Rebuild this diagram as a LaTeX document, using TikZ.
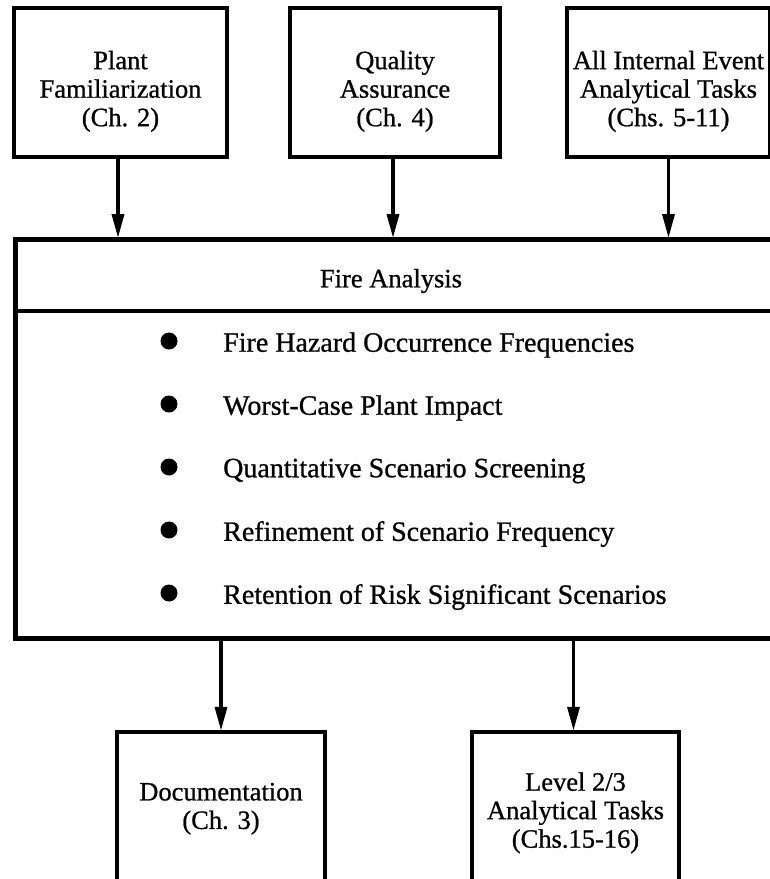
\documentclass[tikz,border=0pt]{standalone}
\usepackage{fontspec}
\setmainfont{Liberation Serif}[FakeBold=0.8]
\usetikzlibrary{arrows.meta}

\newcommand{\lowerstrut}{\rule{0pt}{36pt}}

\tikzset{
  boxline/.style={line width=4.5pt},
  taskbox/.style={draw, boxline, rectangle, align=center, inner sep=0pt,
    font=\fontsize{26.5}{28.5}\selectfont},
  flowarrow/.style={line width=3.5pt,
    -{Triangle[length=24pt,width=12pt]}, shorten >=-1pt},
  itemtext/.style={anchor=west, inner sep=0pt, font=\fontsize{28}{30}\selectfont},
  bulletdot/.style={circle, fill=black, inner sep=0pt, minimum size=17pt},
}

\begin{document}
\begin{tikzpicture}[x=1pt, y=-1pt]
  \useasboundingbox (0,0) rectangle (770,879);
  \clip (0,0) rectangle (770,879);

  % input tasks
  \node[taskbox, minimum width=213pt, minimum height=149pt] (plant) at (120.5,82.5)
    {\lowerstrut Plant\\Familiarization\\(Ch. 2)};
  \node[taskbox, minimum width=210pt, minimum height=149pt] (qa) at (395,82.5)
    {\lowerstrut Quality\\Assurance\\(Ch. 4)};
  \node[taskbox, minimum width=203pt, minimum height=149pt] (internal) at (668.5,82.5)
    {\lowerstrut All Internal Event\\Analytical Tasks\\(Chs. 5-11)};

  % fire analysis frame
  \node[draw, boxline, rectangle, anchor=north west, inner sep=0pt,
        minimum width=780pt, minimum height=399pt] (fire) at (13,237) {};
  \coordinate (divL) at (13,311);
  \coordinate (divR) at (795,311);
  \draw[boxline] (divL) -- (divR);
  \node[font=\fontsize{26.5}{28.5}\selectfont, inner sep=0pt] (title) at (391,281) {Fire Analysis};

  % analysis steps
  \foreach \n/\y/\t in {
      a/341/Fire Hazard Occurrence Frequencies,
      b/404/Worst-Case Plant Impact,
      c/467/Quantitative Scenario Screening,
      d/530/Refinement of Scenario Frequency,
      e/593/Retention of Risk Significant Scenarios} {
    \node[bulletdot] (dot\n) at (169,\y) {};
    \node[itemtext] (item\n) at (223,\y+4) {\t};
  }

  % output tasks
  \node[taskbox, minimum width=208pt, minimum height=150pt] (doc) at (221,807)
    {\rule{0pt}{21pt}Documentation\\(Ch. 3)};
  \node[taskbox, minimum width=207pt, minimum height=150pt] (level) at (575.5,807)
    {\rule{0pt}{30pt}Level 2/3\\Analytical Tasks\\(Chs.15-16)};

  % connectors
  \draw[flowarrow] ([xshift=-2.5pt]plant.south) -- ([xshift=-2.5pt]plant.south |- fire.north);
  \draw[flowarrow] ([xshift=-2pt]qa.south) -- ([xshift=-2pt]qa.south |- fire.north);
  \draw[flowarrow] (internal.south) -- (internal.south |- fire.north);
  \draw[flowarrow] (doc.north |- fire.south) -- (doc.north);
  \draw[flowarrow] ([xshift=-2pt]level.north |- fire.south) -- ([xshift=-2pt]level.north);
\end{tikzpicture}
\end{document}
